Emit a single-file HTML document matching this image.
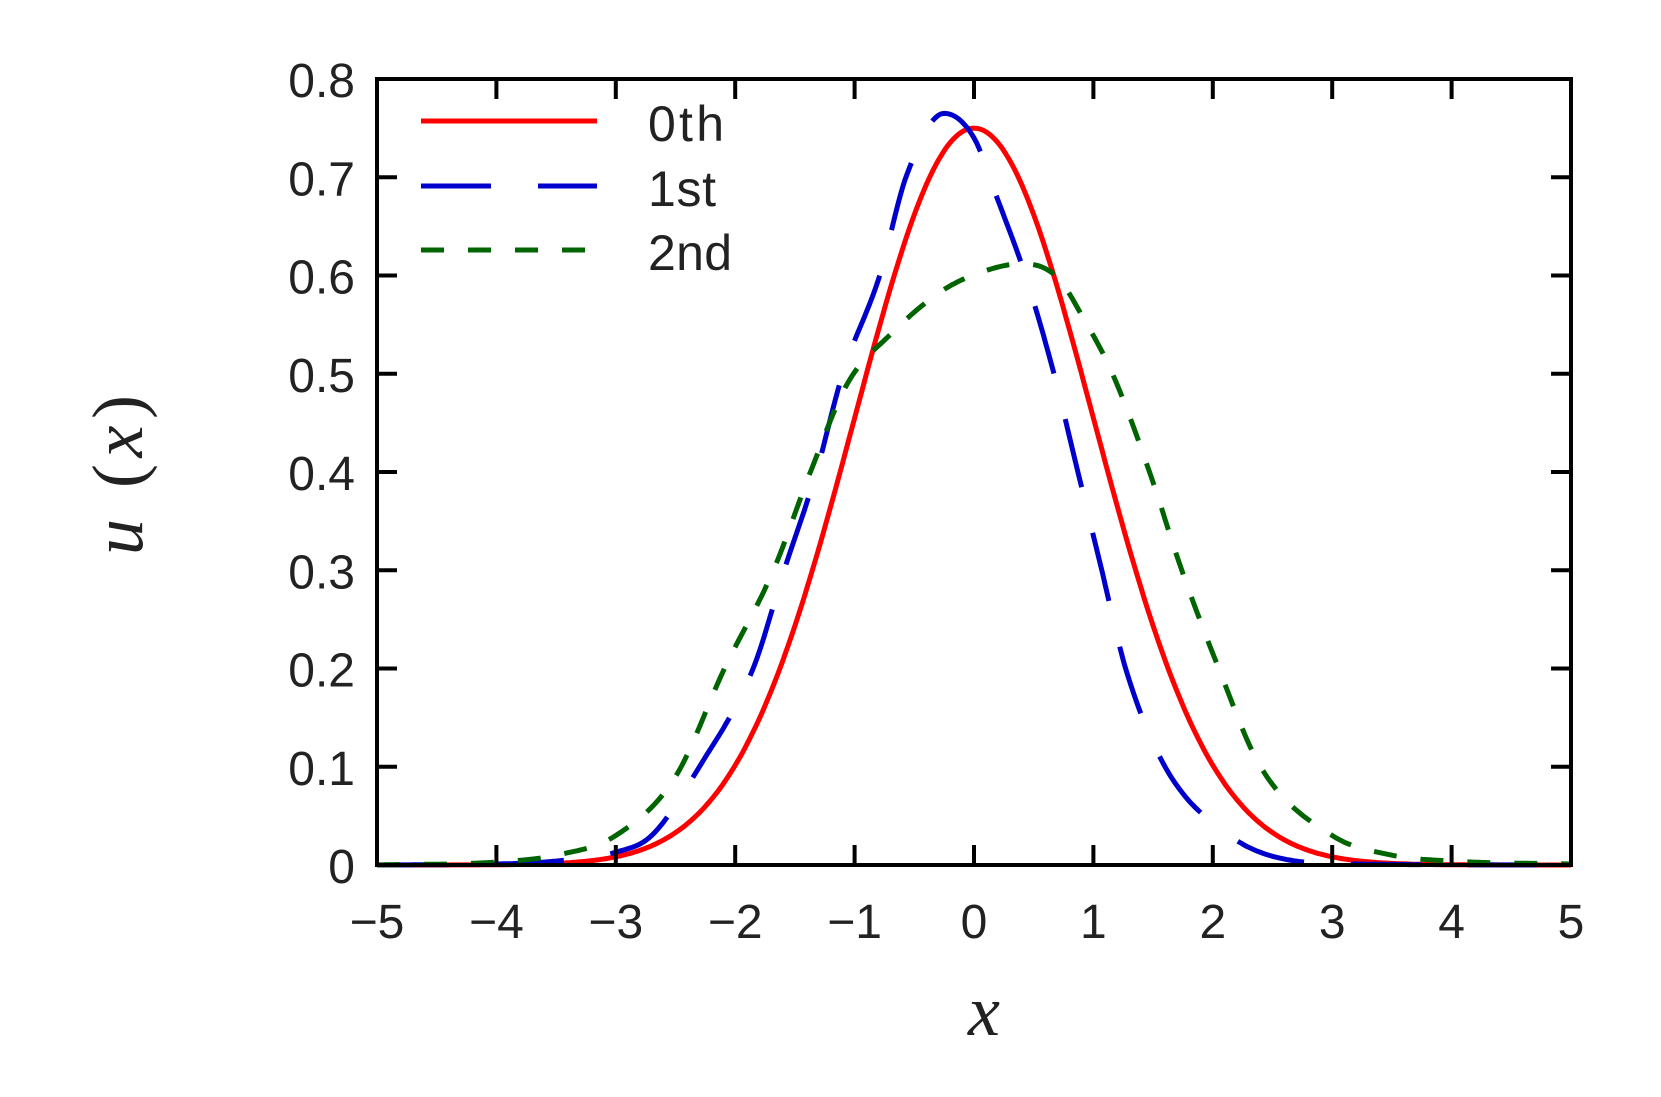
<!DOCTYPE html>
<html><head><meta charset="utf-8"><style>
html,body{margin:0;padding:0;background:#fff;}
svg text{font-family:"Liberation Sans",sans-serif;fill:#222;}
</style></head><body>
<svg id="s" width="1661" height="1092" viewBox="0 0 1661 1092" xmlns="http://www.w3.org/2000/svg">
<g id="curves"></g>
<rect x="377" y="79" width="1194" height="786" fill="none" stroke="#000" stroke-width="4"/>
<g id="ticks" stroke="#000" stroke-width="4"></g>
<g id="labels" font-size="48"></g>
<line x1="421" y1="121" x2="597" y2="121" stroke="#f00" stroke-width="5"/>
<line x1="421" y1="186" x2="597" y2="186" stroke="#0000cc" stroke-width="5" stroke-dasharray="70 47"/>
<line x1="421" y1="250" x2="597" y2="250" stroke="#006400" stroke-width="5" stroke-dasharray="23 24"/>
<text x="648" y="141" font-size="50" textLength="76">0th</text>
<text x="648" y="206" font-size="50" textLength="68">1st</text>
<text x="648" y="270" font-size="50" textLength="84">2nd</text>
<text x="984" y="1035" font-size="72" font-style="italic" text-anchor="middle" style="font-family:'Liberation Serif',serif">x</text>
<text transform="translate(142,475) rotate(-90)" font-size="72" text-anchor="middle" style="font-family:'Liberation Serif',serif" textLength="160"><tspan font-style="italic">u</tspan> (<tspan font-style="italic">x</tspan>)</text>
</svg>
<script>
var X=function(x){return 377+(x+5)*119.4;},Y=function(v){return 865-v*982.5;};
var ns="http://www.w3.org/2000/svg";
function el(p,t,a){var e=document.createElementNS(ns,t);for(var k in a)e.setAttribute(k,a[k]);p.appendChild(e);return e;}
var tk=document.getElementById('ticks'),lb=document.getElementById('labels');
for(var i=-5;i<=5;i++){var x=X(i);
 if(i>-5&&i<5){el(tk,'line',{x1:x,y1:865,x2:x,y2:845});el(tk,'line',{x1:x,y1:79,x2:x,y2:99});}
 var t=el(lb,'text',{x:x,y:938,'text-anchor':'middle'});t.textContent=(i<0?'\u2212':'')+Math.abs(i);}
for(var j=0;j<=8;j++){var y=Y(j/10);
 if(j>0&&j<8){el(tk,'line',{x1:377,y1:y,x2:397,y2:y});el(tk,'line',{x1:1571,y1:y,x2:1551,y2:y});}
 var t=el(lb,'text',{x:355,y:y+18,'text-anchor':'end'});t.textContent=j==0?'0':('0.'+j);}
function interp(pts){
 var n=pts.length,xs=pts.map(p=>p[0]),ys=pts.map(p=>p[1]),d=[],m=[];
 for(var i=0;i<n-1;i++)d.push((ys[i+1]-ys[i])/(xs[i+1]-xs[i]));
 m[0]=d[0];m[n-1]=d[n-2];
 for(var i=1;i<n-1;i++){m[i]=(d[i-1]*d[i]<=0)?0:(d[i-1]+d[i])/2;}
 for(var i=0;i<n-1;i++){if(d[i]==0){m[i]=m[i+1]=0;continue;}var a=m[i]/d[i],b=m[i+1]/d[i],s=a*a+b*b;if(s>9){var t=3/Math.sqrt(s);m[i]=t*a*d[i];m[i+1]=t*b*d[i];}}
 return function(x){if(x<=xs[0])return ys[0];if(x>=xs[n-1])return ys[n-1];var k=0;while(xs[k+1]<x)k++;
  var h=xs[k+1]-xs[k],t=(x-xs[k])/h,t2=t*t,t3=t2*t;
  return (2*t3-3*t2+1)*ys[k]+(t3-2*t2+t)*h*m[k]+(-2*t3+3*t2)*ys[k+1]+(t3-t2)*h*m[k+1];};}
var red=function(x){return 0.75*Math.exp(-x*x/2);};
var blue=interp([[-5,0],[-4,0.001],[-3.5,0.004],[-3,0.013],[-2.7,0.03],[-2.3,0.1],[-1.85,0.2],[-1.59,0.3],[-1.32,0.4],[-1.1,0.5],[-0.79,0.6],[-0.57,0.7],[-0.25,0.765],[0.0,0.74],[0.19,0.68],[0.43,0.6],[0.67,0.5],[0.87,0.4],[1.07,0.3],[1.27,0.2],[1.6,0.1],[2.14,0.03],[2.6,0.006],[3.2,0.001],[5,0]]);
var green=interp([[-5,0],[-4,0.003],[-3.5,0.01],[-3,0.03],[-2.5,0.09],[-2.09,0.2],[-1.68,0.3],[-1.37,0.4],[-1.06,0.49],[-0.7,0.54],[-0.26,0.585],[0.1,0.605],[0.4,0.612],[0.7,0.598],[0.9,0.56],[1.16,0.5],[1.47,0.4],[1.74,0.3],[2.05,0.2],[2.4,0.1],[3.0,0.03],[3.5,0.01],[4,0.004],[5,0.001]]);
function path(f){var d='';for(var x=-5;x<=5.0001;x+=0.02){d+=(d?'L':'M')+X(x).toFixed(1)+','+Y(f(x)).toFixed(1);}return d;}
var g=document.getElementById('curves');
el(g,'path',{d:path(red),fill:'none',stroke:'#f00','stroke-width':5});
el(g,'path',{d:path(blue),fill:'none',stroke:'#0000cc','stroke-width':5,'stroke-dasharray':'70 47'});
el(g,'path',{d:path(green),fill:'none',stroke:'#006400','stroke-width':5,'stroke-dasharray':'23 24'});
</script>
</body></html>
